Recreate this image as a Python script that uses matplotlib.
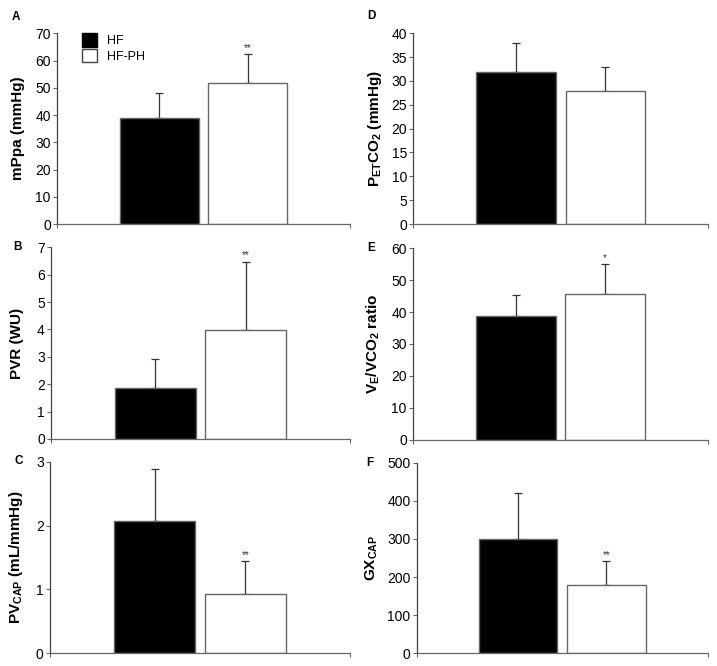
import numpy as np
import matplotlib
matplotlib.use("Agg")
import matplotlib.pyplot as plt
from matplotlib.patches import Patch

plt.rcParams['font.family'] = ['Liberation Sans', 'DejaVu Sans']
plt.rcParams['mathtext.fontset'] = 'custom'
plt.rcParams['mathtext.rm'] = 'Liberation Sans:bold'
plt.rcParams['mathtext.bf'] = 'Liberation Sans:bold'
plt.rcParams['mathtext.default'] = 'bf'

# data
groups = ['HF', 'HF-PH']
panels = ['A', 'B', 'C', 'D', 'E', 'F']
ylabels = ['mPpa (mmHg)', 'PVR (WU)', r'PV$_{\mathregular{CAP}}$ (mL/mmHg)',
           r'P$_{\mathregular{ET}}$CO$_{\mathregular{2}}$ (mmHg)',
           r'V$_{\mathregular{E}}$/VCO$_{\mathregular{2}}$ ratio',
           r'GX$_{\mathregular{CAP}}$']
hf_mean = [38.8, 1.87, 2.07, 31.9, 38.6, 301]
hf_sd = [9.3, 1.05, 0.82, 6.0, 6.8, 120]
ph_mean = [51.8, 3.98, 0.93, 27.9, 45.7, 180]
ph_sd = [10.5, 2.49, 0.51, 5.1, 9.3, 61]
sig = ['**', '**', '**', '', '*', '**']
ymax = [70, 7, 3, 40, 60, 500]
ystep = [10, 1, 1, 5, 10, 100]

W, H = 717, 666
# plot area boxes in pixels: left, right, top, bottom
boxes = [(57, 350, 33.3, 224), (51, 350, 247.3, 439), (50, 350, 461.7, 653.3),
         (413.3, 708, 33.3, 224), (413, 708, 248.3, 439.5), (416.7, 708, 462.7, 653.3)]
# panel letter centres and ylabel centres (pixels)
letter_xy = [(16, 17), (17, 247), (19, 461), (371, 16), (371, 248), (370, 463)]
ylab_x = [18, 17, 16, 375, 373, 372]

spine_col = '#666666'
err_col = '#333333'

fig = plt.figure(figsize=(W / 100, H / 100), dpi=100)

for i in range(6):
    l, r, t, b = boxes[i]
    ax = fig.add_axes([l / W, 1 - b / H, (r - l) / W, (b - t) / H])
    x = np.arange(len(groups))
    means = [hf_mean[i], ph_mean[i]]
    sds = [hf_sd[i], ph_sd[i]]
    ax.bar(x, means, width=0.89, color=['black', 'white'],
           edgecolor=spine_col, linewidth=1.0, zorder=2)
    ax.errorbar(x, means, yerr=[[0, 0], sds], fmt='none', ecolor=err_col,
                elinewidth=0.9, capsize=2.6, capthick=0.9, zorder=1)
    if sig[i]:
        ax.annotate(sig[i], (x[1], means[1] + sds[1]), xytext=(0, 1),
                    textcoords='offset points', ha='center', va='bottom',
                    fontsize=7, color='#333333')
    ax.set_xlim(-1.15, 2.15)
    ax.set_ylim(0, ymax[i])
    ax.set_yticks(np.arange(0, ymax[i] + ystep[i] / 2, ystep[i]))
    ax.set_xticks([-1.15, 2.15])
    ax.set_xticklabels([])
    ax.tick_params(axis='y', direction='out', length=3, width=0.8,
                   color=spine_col, pad=1.5, labelsize=10)
    ax.tick_params(axis='x', direction='out', length=3, width=0.8,
                   color=spine_col)
    for s in ['top', 'right']:
        ax.spines[s].set_visible(False)
    ax.spines['left'].set_color('#444444')
    ax.spines['bottom'].set_color(spine_col)
    ax.spines['left'].set_linewidth(0.9)
    ax.spines['bottom'].set_linewidth(0.9)

    ax.set_ylabel(ylabels[i], fontsize=11, fontweight='bold', va='center')
    cy = (t + b) / 2
    ax.yaxis.set_label_coords((ylab_x[i] - l) / (r - l), 0.5)

    lx, ly = letter_xy[i]
    fig.text(lx / W, 1 - ly / H, panels[i], fontsize=8.5, fontweight='bold',
             ha='center', va='center')

    if i == 0:
        handles = [Patch(facecolor='black', edgecolor='black'),
                   Patch(facecolor='white', edgecolor='#444444')]
        ax.legend(handles, groups, loc='upper left', frameon=False,
                  bbox_to_anchor=(0.085, 1.0), borderpad=0, borderaxespad=0,
                  handlelength=1.2, handleheight=1.3, handletextpad=0.8,
                  labelspacing=0.12, fontsize=9)

fig.savefig('out.png', dpi=100)
